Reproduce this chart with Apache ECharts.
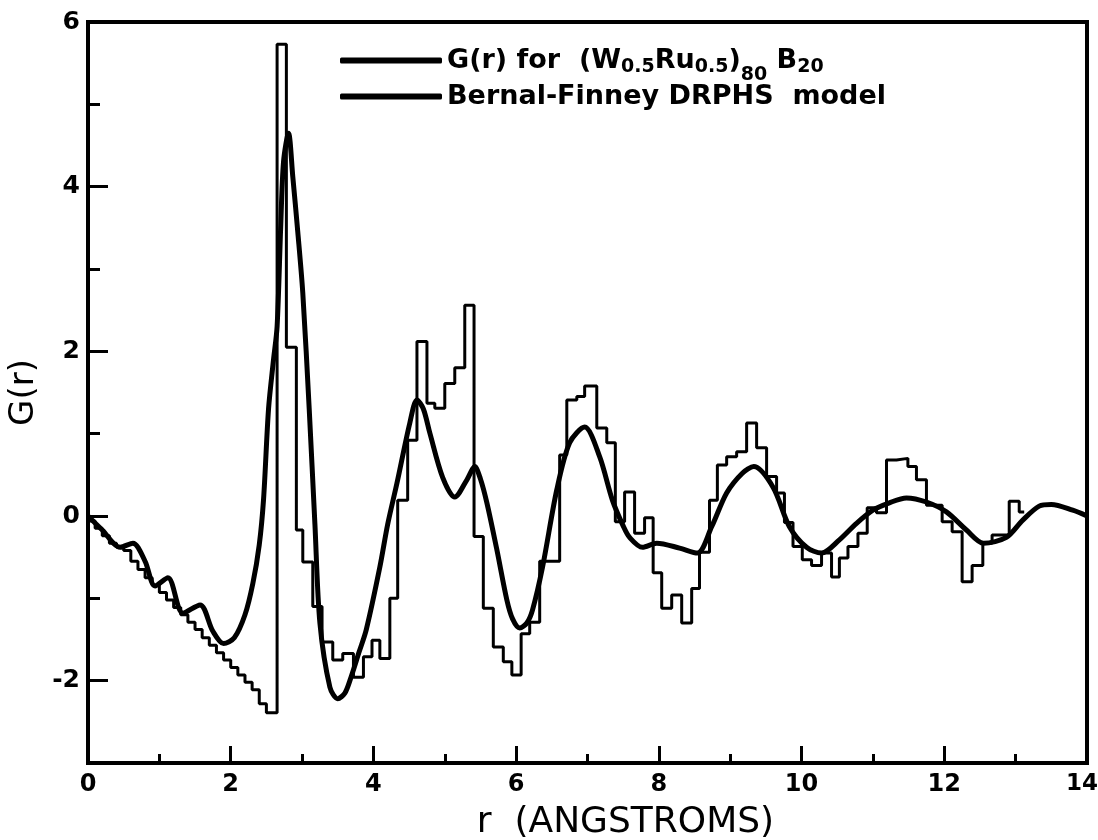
<!DOCTYPE html>
<html>
<head>
<meta charset="utf-8">
<title>G(r)</title>
<script src="https://cdn.jsdelivr.net/npm/echarts@6/dist/echarts.min.js"></script>
<style>
    html, body { margin: 0; padding: 0; background: #fff; }
    #chart { width: 1098px; height: 840px; }
</style>
</head>
<body>
<div id="chart"></div>
<script>
    var grR = [0, 0.2, 0.45, 0.63, 0.8, 0.94, 1.12, 1.33, 1.57, 1.75, 1.9, 2.05, 2.2, 2.31, 2.4,
        2.46, 2.53, 2.6, 2.65, 2.7, 2.74, 2.81, 2.87, 2.94, 3.01, 3.1, 3.18, 3.25, 3.39, 3.5, 3.6,
        3.67, 3.8, 3.9, 4.09, 4.2, 4.33, 4.51, 4.61, 4.7, 4.79, 4.97, 5.14, 5.31, 5.42, 5.5,
        5.59, 5.73, 5.87, 5.95, 6.05, 6.15, 6.23, 6.37, 6.57, 6.75, 6.96, 7.17, 7.35, 7.5, 7.59,
        7.77, 7.97, 8.29, 8.54, 8.74, 8.95, 9.17, 9.33, 9.6, 9.83, 10.07, 10.28, 10.53, 10.77,
        11.0, 11.23, 11.47, 11.75, 12.03, 12.31, 12.55, 12.87, 13.1, 13.33, 13.5, 13.8, 14.0];
    var grG = [0, -0.17, -0.38, -0.33, -0.55, -0.85, -0.75, -1.18, -1.08, -1.4, -1.55, -1.48, -1.2, -0.82, -0.35,
        0.2, 1.3, 1.9, 2.3, 3.5, 4.3, 4.65, 4.12, 3.45, 2.71, 1.3, -0.1, -1.3, -2.08, -2.22, -2.15,
        -2.0, -1.65, -1.38, -0.62, -0.1, 0.4, 1.13, 1.41, 1.3, 1.01, 0.47, 0.23, 0.44, 0.60, 0.45,
        0.16, -0.41, -1.02, -1.25, -1.36, -1.3, -1.14, -0.62, 0.32, 0.89, 1.08, 0.72, 0.19, -0.12, -0.26,
        -0.38, -0.33, -0.39, -0.45, -0.13, 0.28, 0.52, 0.6, 0.35, -0.13, -0.38, -0.45, -0.29, -0.09,
        0.07, 0.16, 0.22, 0.17, 0.05, -0.17, -0.33, -0.26, -0.05, 0.12, 0.14, 0.07, 0.0];

    // Bernal-Finney histogram: left bin edges (last one closes the final bin) and bin heights
    var binEdge = [0, 0.1, 0.2, 0.3, 0.4, 0.5, 0.6, 0.7, 0.8, 0.9, 1.0, 1.1, 1.2, 1.3, 1.4, 1.5, 1.6,
        1.7, 1.8, 1.9, 2.0, 2.1, 2.2, 2.3, 2.4, 2.5, 2.65, 2.78, 2.92, 3.01, 3.15, 3.28, 3.43, 3.57,
        3.72, 3.86, 3.98, 4.09, 4.23, 4.34, 4.48, 4.61, 4.75, 4.86, 5.0, 5.14, 5.28, 5.41, 5.54,
        5.68, 5.82, 5.94, 6.07, 6.19, 6.33, 6.61, 6.71, 6.85, 6.96, 7.13, 7.27, 7.39, 7.52, 7.66,
        7.8, 7.92, 8.04, 8.18, 8.32, 8.46, 8.57, 8.71, 8.82, 8.95, 9.09, 9.23, 9.37, 9.51, 9.65,
        9.76, 9.88, 10.01, 10.14, 10.28, 10.42, 10.53, 10.65, 10.79, 10.92, 11.05, 11.19, 11.33,
        11.49, 11.61, 11.75, 11.97, 12.11, 12.25, 12.39, 12.54, 12.67, 12.91, 13.05, 13.12];
    var binG = [-0.06, -0.15, -0.24, -0.33, -0.38, -0.42, -0.55, -0.65, -0.75, -0.84, -0.93, -1.02,
        -1.11, -1.2, -1.29, -1.38, -1.48, -1.57, -1.66, -1.75, -1.84, -1.93, -2.02, -2.11, -2.28, -2.39,
        5.73, 2.05, -0.17, -0.56, -1.1, -1.53, -1.75, -1.67, -1.96, -1.71, -1.51, -1.73, -1.0, 0.19,
        0.92, 2.12, 1.37, 1.31, 1.61, 1.8, 2.56, -0.25, -1.12, -1.59, -1.77, -1.93, -1.43, -1.29,
        -0.55, 0.74, 1.41, 1.45, 1.58, 1.07, 0.89, -0.07, 0.29, -0.21, -0.02, -0.69, -1.12, -0.96,
        -1.3, -0.88, -0.44, 0.19, 0.62, 0.72, 0.78, 1.13, 0.83, 0.48, 0.28, -0.08, -0.37, -0.53,
        -0.6, -0.45, -0.74, -0.51, -0.37, -0.21, 0.1, 0.04, 0.68, 0.7, 0.6, 0.44, 0.13, -0.07,
        -0.19, -0.8, -0.6, -0.33, -0.23, 0.18, 0.05];

    var xLabels = [0, 2, 4, 6, 8, 10, 12, 14];
    var yLabels = [-2, 0, 2, 4, 6];
    var yMajor = [-2, 0, 2, 4];
    var yMinor = [-1, 1, 3, 5];

    var FONT = 'DejaVu Sans';

    var curveData = grR.map(function (r, i) { return [r, grG[i]]; });
    var histData = binEdge.map(function (r, i) {
        return [r, i < binG.length ? binG[i] : binG[binG.length - 1]];
    });

    var chart = echarts.init(document.getElementById('chart'));

    var legendText = {
        fontFamily: FONT,
        color: '#000',
        rich: {
            a: { fontFamily: FONT, fontSize: 27, fontWeight: 'bold', color: '#000', verticalAlign: 'middle' },
            s: { fontFamily: FONT, fontSize: 19, fontWeight: 'bold', color: '#000', verticalAlign: 'middle', padding: [14, 0, 0, 0] },
            t: { fontFamily: FONT, fontSize: 19, fontWeight: 'bold', color: '#000', verticalAlign: 'middle', padding: [30, 0, 0, 0] }
        }
    };

    chart.setOption({
        animation: false,
        backgroundColor: '#fff',
        grid: {
            left: 88, right: 11, top: 22, bottom: 77,
            outerBoundsMode: 'none',
            show: true, borderColor: '#000', borderWidth: 4
        },
        legend: [{
            data: ['G(r)'],
            left: 335, top: 42,
            icon: 'roundRect', itemWidth: 102, itemHeight: 6,
            selectedMode: false,
            itemStyle: { color: '#000' },
            textStyle: legendText,
            formatter: function () {
                return '{a|G(r) for  (W}{s|0.5}{a|Ru}{s|0.5}{a|)}{t|80}{a| B}{s|20}';
            }
        }, {
            data: ['DRPHS'],
            left: 335, top: 78,
            icon: 'roundRect', itemWidth: 102, itemHeight: 6,
            selectedMode: false,
            itemStyle: { color: '#000' },
            textStyle: legendText,
            formatter: function () {
                return '{a|Bernal-Finney DRPHS  model}';
            }
        }],
        xAxis: {
            type: 'value',
            min: 0, max: 14, interval: 2,
            name: 'r  (ANGSTROMS)',
            nameLocation: 'middle',
            nameGap: 42,
            nameTextStyle: { fontFamily: FONT, fontSize: 36, color: '#000', padding: [0, 0, 0, 76] },
            axisLine: { onZero: false, lineStyle: { color: '#000', width: 4 } },
            axisTick: { inside: true, length: 17, lineStyle: { color: '#000', width: 3 } },
            minorTick: { show: true, splitNumber: 2, length: 9, lineStyle: { color: '#000', width: 3 } },
            axisLabel: {
                margin: 10, fontFamily: FONT, fontSize: 24, fontWeight: 'bold', color: '#000',
                customValues: xLabels,
                // keep the last label inside the page
                formatter: function (v) {
                    return v === 14 ? '{e|14}' : String(v);
                },
                rich: {
                    e: { fontFamily: FONT, fontSize: 23, fontWeight: 'bold', color: '#000', padding: [0, 10, 0, 0] }
                }
            },
            splitLine: { show: false }
        },
        yAxis: [{
            type: 'value',
            min: -3, max: 6,
            name: 'G(r)',
            nameLocation: 'middle',
            nameGap: 33,
            nameRotate: 90,
            nameTextStyle: { fontFamily: FONT, fontSize: 34, color: '#000' },
            axisLine: { onZero: false, lineStyle: { color: '#000', width: 4 } },
            axisTick: { inside: true, length: 20, lineStyle: { color: '#000', width: 3 }, customValues: yMajor },
            axisLabel: {
                margin: 8, fontFamily: FONT, fontSize: 25, fontWeight: 'bold', color: '#000',
                customValues: yLabels
            },
            splitLine: { show: false }
        }, {
            // short ticks at the odd values
            type: 'value',
            min: -3, max: 6,
            position: 'left',
            axisLine: { show: false, onZero: false },
            axisTick: { inside: true, length: 12, lineStyle: { color: '#000', width: 3 }, customValues: yMinor },
            axisLabel: { show: false },
            splitLine: { show: false }
        }],
        series: [{
            name: 'DRPHS',
            type: 'line',
            step: 'end',
            data: histData,
            showSymbol: false,
            lineStyle: { color: '#000', width: 3 },
            itemStyle: { color: '#000' },
            z: 2
        }, {
            name: 'G(r)',
            type: 'line',
            smooth: 0.3,
            data: curveData,
            showSymbol: false,
            lineStyle: { color: '#000', width: 5 },
            itemStyle: { color: '#000' },
            z: 3
        }]
    });
</script>
</body>
</html>
